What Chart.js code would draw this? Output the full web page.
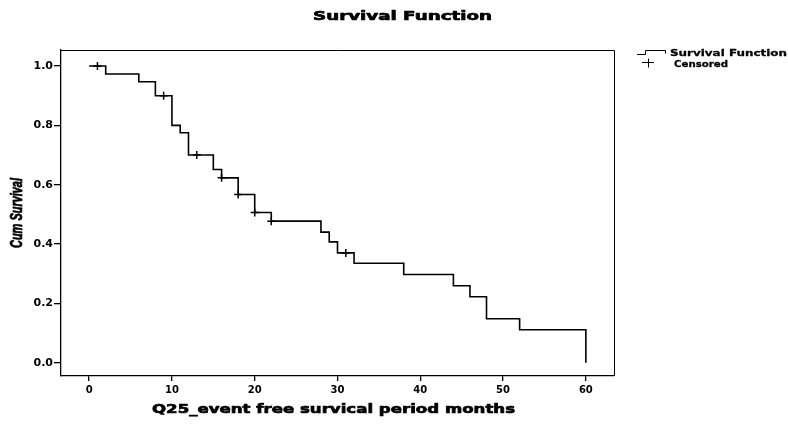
<!DOCTYPE html>
<html>
<head>
<meta charset="utf-8">
<title>Survival Function</title>
<script src="https://cdn.jsdelivr.net/npm/chart.js"></script>
<style>
  html, body { margin: 0; padding: 0; background: #fff; }
  #km { display: block; }
</style>
</head>
<body>
<canvas id="km" width="788" height="425"></canvas>
<script>
// ── DATA ────────────────────────────────────────────────────
// Kaplan-Meier steps: time in months, cumulative survival after the step
const times    = [0, 2, 6, 8, 10, 11, 12, 15, 16, 18, 20, 22, 28, 29, 30, 32, 38, 44, 46, 48, 52, 60];
const survival = [1.0, 0.973, 0.947, 0.90, 0.80, 0.775, 0.70, 0.651, 0.623, 0.567, 0.506, 0.477,
                  0.44, 0.407, 0.37, 0.335, 0.297, 0.259, 0.222, 0.148, 0.111, 0.0];

// censored cases (the little "+" marks on the curve)
const censorTimes    = [1, 9, 13, 16, 18, 20, 22, 31];
const censorSurvival = [1.0, 0.90, 0.70, 0.623, 0.567, 0.506, 0.477, 0.37];

// axis ticks
const xTicks = [0, 10, 20, 30, 40, 50, 60];
const yTicks = [0.0, 0.2, 0.4, 0.6, 0.8, 1.0];

const titleText  = 'Survival Function';
const xTitleText = 'Q25_event free survical period months';
const yTitleText = 'Cum Survival';
const legendText = ['Survival Function', 'Censored'];

const FONT = '"DejaVu Sans", "Liberation Sans", sans-serif';

// draws text squeezed/stretched to a given width (the scan's text is wide and heavy)
function wideText(ctx, text, x, y, font, width, heavy) {
  ctx.font = font;
  ctx.fillStyle = '#000';
  ctx.strokeStyle = '#000';
  ctx.textAlign = 'left';
  ctx.textBaseline = 'alphabetic';
  const w = ctx.measureText(text).width;
  ctx.save();
  ctx.translate(x, y);
  ctx.scale(width / w, 1);
  ctx.fillText(text, 0, 0);
  if (heavy) {
    ctx.lineWidth = heavy;
    ctx.lineJoin = 'round';
    ctx.strokeText(text, 0, 0);
  }
  ctx.restore();
}

// ── titles, frame and legend (SPSS look) ────────────────────
const spssDecor = {
  id: 'spssDecor',
  afterDraw(chart) {
    const ctx = chart.ctx;
    const a = chart.chartArea;
    ctx.save();

    // close the box: top and right edges
    ctx.strokeStyle = '#000';
    ctx.lineWidth = 1;
    ctx.beginPath();
    ctx.moveTo(a.left, a.top + 0.5);
    ctx.lineTo(a.right + 0.5, a.top + 0.5);
    ctx.lineTo(a.right + 0.5, a.bottom);
    ctx.stroke();

    // chart title
    wideText(ctx, titleText, 313, 20, 'bold 13px ' + FONT, 179, 0.7);

    // x axis title
    wideText(ctx, xTitleText, 152, 413, 'bold 13px ' + FONT, 363, 0.7);

    // y axis title (rotated, narrow italic)
    ctx.save();
    ctx.translate(22, 248);
    ctx.rotate(-Math.PI / 2);
    wideText(ctx, yTitleText, 0, 0, 'italic bold 17px "Liberation Sans Narrow", "Liberation Sans", sans-serif', 70, 0.8);
    ctx.restore();

    // legend: step icon + label
    ctx.strokeStyle = '#000';
    ctx.lineWidth = 1;
    ctx.beginPath();
    ctx.moveTo(637, 54.5);
    ctx.lineTo(645.5, 54.5);
    ctx.lineTo(645.5, 50.5);
    ctx.lineTo(665.5, 50.5);
    ctx.lineTo(665.5, 53.5);
    ctx.stroke();
    wideText(ctx, legendText[0], 670, 56, 'bold 9.5px ' + FONT, 117, 0.3);

    // legend: censored icon + label
    ctx.lineWidth = 1;
    ctx.beginPath();
    ctx.moveTo(642, 62.5);
    ctx.lineTo(654, 62.5);
    ctx.moveTo(648.5, 58.5);
    ctx.lineTo(648.5, 67.5);
    ctx.stroke();
    wideText(ctx, legendText[1], 674, 67, 'bold 9.5px ' + FONT, 54, 0.3);

    ctx.restore();
  }
};

document.addEventListener('DOMContentLoaded', () => {

  const stepData   = times.map((t, i) => ({ x: t, y: survival[i] }));
  const censorData = censorTimes.map((t, i) => ({ x: t, y: censorSurvival[i] }));

  new Chart(document.getElementById('km'), {
    type: 'scatter',
    data: {
      datasets: [
        {
          label: 'Survival Function',
          data: stepData,
          showLine: true,
          stepped: true,          // horizontal first, then drop (KM style)
          borderColor: '#000',
          borderWidth: 1.6,
          pointRadius: 0,
          fill: false,
        },
        {
          label: 'Censored',
          data: censorData,
          showLine: false,
          pointStyle: 'cross',
          pointRadius: 4,
          pointBorderColor: '#000',
          pointBorderWidth: 1.5,
          pointBackgroundColor: '#000',
        }
      ]
    },
    options: {
      responsive: false,
      animation: false,
      layout: { padding: { top: 50, right: 174, left: 0, bottom: 0 } },
      plugins: {
        legend: { display: false },
        tooltip: { enabled: false },
        title: { display: false },
      },
      scales: {
        x: {
          type: 'linear',
          min: -3.4,
          max: 63.4,
          afterBuildTicks: (axis) => { axis.ticks = xTicks.map(v => ({ value: v })); },
          afterFit: (axis) => { axis.height = 49; },
          grid: { drawOnChartArea: false, drawTicks: true, tickLength: 5, color: '#000', lineWidth: 1.3 },
          border: { display: true, color: '#000', width: 1.3 },
          ticks: {
            color: '#000',
            padding: 3,
            font: { family: FONT, size: 10, weight: 'bold' },
            callback: (v) => String(v),
          },
        },
        y: {
          type: 'linear',
          min: -0.045,
          max: 1.054,
          afterBuildTicks: (axis) => { axis.ticks = yTicks.map(v => ({ value: v })); },
          afterFit: (axis) => { axis.width = 61; },
          grid: { drawOnChartArea: false, drawTicks: true, tickLength: 7, color: '#000', lineWidth: 1.3 },
          border: { display: true, color: '#000', width: 1.3 },
          ticks: {
            color: '#000',
            padding: 1,
            font: { family: FONT, size: 11, weight: 'bold' },
            callback: (v) => Number(v).toFixed(1),
          },
        }
      }
    },
    plugins: [spssDecor]
  });

});
</script>
</body>
</html>
